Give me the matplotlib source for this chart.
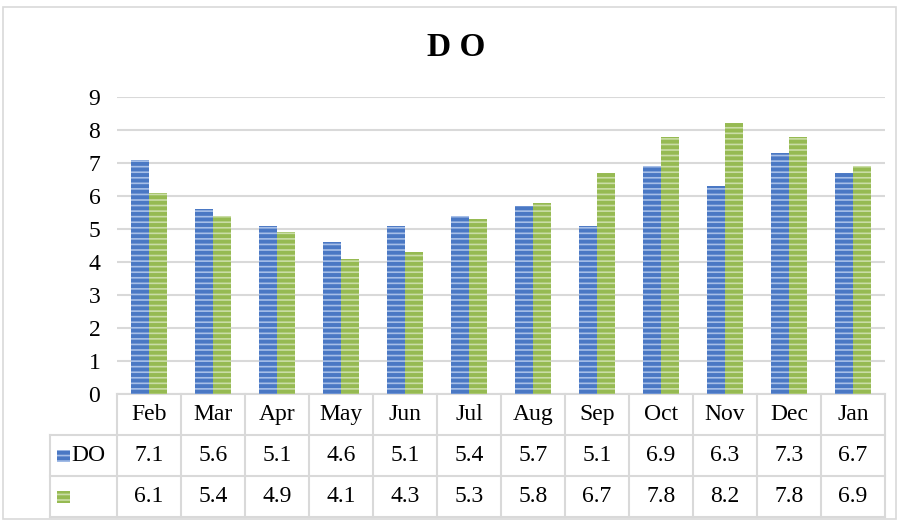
import matplotlib
matplotlib.use("Agg")
import matplotlib.pyplot as plt
from matplotlib.patches import Rectangle
from matplotlib.transforms import blended_transform_factory
from matplotlib.lines import Line2D

months = ["Feb", "Mar", "Apr", "May", "Jun", "Jul", "Aug", "Sep", "Oct", "Nov", "Dec", "Jan"]
do_values = [7.1, 5.6, 5.1, 4.6, 5.1, 5.4, 5.7, 5.1, 6.9, 6.3, 7.3, 6.7]
series2_values = [6.1, 5.4, 4.9, 4.1, 4.3, 5.3, 5.8, 6.7, 7.8, 8.2, 7.8, 6.9]
series_names = ["DO", ""]
yticks = list(range(0, 10))

plt.rcParams['font.family'] = ['Liberation Serif', 'DejaVu Serif']
plt.rcParams['hatch.linewidth'] = 2.8

blue_face, blue_hatch = "#A7BFE8", "#4A78C4"
green_face, green_hatch = "#CADDA6", "#96BA52"
grid_c = "#D9D9D9"

fig = plt.figure(figsize=(9, 5.21), dpi=100)
ax = fig.add_axes([117/900, 1-394/521, 768/900, 297/521])

n = len(months)
xs = list(range(n))
w = 0.28
ax.bar([x - 0.14 for x in xs], do_values, width=w, facecolor=blue_face,
       edgecolor=blue_hatch, hatch='---', linewidth=0, zorder=3)
ax.bar([x + 0.14 for x in xs], series2_values, width=w, facecolor=green_face,
       edgecolor=green_hatch, hatch='---', linewidth=0, zorder=3)

fs = 17
ax.set_xlim(-0.5, n - 0.5)
ax.set_ylim(0, 9)
ax.set_yticks(yticks)
ax.set_yticklabels([str(t) for t in yticks], fontsize=fs)
ax.tick_params(axis='y', length=0, pad=12)
ax.set_xticks([])
ax.yaxis.grid(True, color=grid_c, linewidth=1.5, zorder=0)
ax.set_axisbelow(True)
for s in ax.spines.values():
    s.set_visible(False)

fig.text(456/900, 1-47/521, "D O", fontsize=24, fontweight='bold', ha='center', va='center')

# data table
tr = blended_transform_factory(ax.transData, ax.transAxes)
h = 41/297
left_x = -0.5 - 67/64
lk = dict(color=grid_c, linewidth=1.5, transform=tr, clip_on=False)
ax.add_line(Line2D([-0.5, n - 0.5], [0, 0], **lk))
for k in range(1, 4):
    ax.add_line(Line2D([left_x, n - 0.5], [-k*h, -k*h], **lk))
for k in range(n + 1):
    ax.add_line(Line2D([k - 0.5, k - 0.5], [0, -3*h], **lk))
ax.add_line(Line2D([left_x, left_x], [-h, -3*h], **lk))

for i, m in enumerate(months):
    ax.text(i, -0.5*h, m, ha='center', va='center', fontsize=fs, transform=tr)
    ax.text(i, -1.5*h, f"{do_values[i]:.1f}", ha='center', va='center', fontsize=fs, transform=tr)
    ax.text(i, -2.5*h, f"{series2_values[i]:.1f}", ha='center', va='center', fontsize=fs, transform=tr)

# legend keys
kw = 13/64
kh = 12/297
for r, (fc, hc, name) in enumerate([(blue_face, blue_hatch, series_names[0]),
                                     (green_face, green_hatch, series_names[1])]):
    yc = -(1.5 + r)*h
    rect = Rectangle((left_x + 7/64, yc - kh/2), kw, kh, facecolor=fc, edgecolor=hc,
                     hatch='---', linewidth=0, transform=tr, clip_on=False)
    ax.add_patch(rect)
    ax.text(left_x + 21/64, yc, name, ha='left', va='center', fontsize=fs, transform=tr)

# outer border
fig.add_artist(Rectangle((3/900, 2/521), 893/900, 512/521, transform=fig.transFigure,
                         fill=False, edgecolor=grid_c, linewidth=1.2))

fig.savefig("out.png", dpi=100)
